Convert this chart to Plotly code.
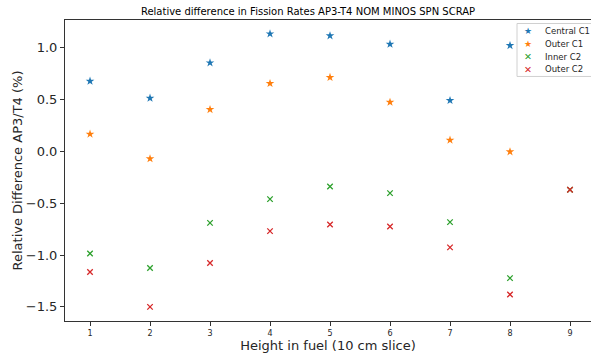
import plotly.graph_objects as go

slices = [1, 2, 3, 4, 5, 6, 7, 8, 9]
central_c1 = [0.678, 0.514, 0.855, 1.135, 1.116, 1.035, 0.492, 1.022, None]
outer_c1 = [0.167, -0.07, 0.405, 0.656, 0.714, 0.475, 0.109, -0.003, None]
inner_c2 = [-0.985, -1.125, -0.689, -0.46, -0.338, -0.402, -0.682, -1.222, -0.37]
outer_c2 = [-1.164, -1.50, -1.077, -0.769, -0.705, -0.724, -0.926, -1.38, -0.37]
ytick_vals = [-1.5, -1.0, -0.5, 0.0, 0.5, 1.0]

names = ["Central C1", "Outer C1", "Inner C2", "Outer C2"]
colors = ["#1f77b4", "#ff7f0e", "#2ca02c", "#d62728"]
series = [central_c1, outer_c1, inner_c2, outer_c2]
symbols = ["star", "star", "x-thin", "x-thin"]
glyphs = ["★", "★", "✕", "✕"]

W, H = 591, 354
L, R, T, B = 65, 0, 19.5, 33.3
PW, PH = W - L - R, H - T - B


def px2paper(px, py):
    return (px - L) / PW, (H - B - py) / PH


fig = go.Figure()
for name, col, ys, sym in zip(names, colors, series, symbols):
    if sym == "star":
        marker = dict(symbol=sym, size=6.5, color=col, line=dict(width=0))
    else:
        marker = dict(symbol=sym, size=5.5, color=col, line=dict(width=1.3, color=col))
    fig.add_trace(go.Scatter(x=slices, y=ys, mode="markers", name=name, marker=marker,
                             showlegend=False))

# custom compact legend (matplotlib style)
x0, y0 = px2paper(517, 23)
x1, y1 = px2paper(600, 76)
fig.add_shape(type="rect", xref="paper", yref="paper", x0=x0, x1=x1, y0=y1, y1=y0,
              line=dict(color="#d0d0d0", width=1), fillcolor="rgba(255,255,255,0.8)", layer="above")
entry_y = [30.7, 43.5, 56.3, 69]
for name, col, g, ey in zip(names, colors, glyphs, entry_y):
    mx, my = px2paper(528, ey)
    tx, _ = px2paper(543, ey)
    fig.add_annotation(x=mx, y=my, xref="paper", yref="paper", text=g, showarrow=False,
                       xanchor="center", yanchor="middle",
                       font=dict(size=9 if g == "★" else 9.5, color=col, family="DejaVu Sans"))
    fig.add_annotation(x=tx, y=my, xref="paper", yref="paper", text=name, showarrow=False,
                       xanchor="left", yanchor="middle",
                       font=dict(size=8.5, color="#262626", family="DejaVu Sans"))

fig.update_layout(
    width=W, height=H,
    margin=dict(l=L, r=R, t=T, b=B, autoexpand=False),
    paper_bgcolor="white", plot_bgcolor="white",
    font=dict(family="DejaVu Sans", color="#262626"),
    title=dict(text="Relative difference in Fission Rates AP3-T4 NOM MINOS SPN SCRAP",
               x=308 / W, xanchor="center", y=1 - 11 / H, yanchor="middle",
               font=dict(size=10, color="black"), automargin=False),
    showlegend=False,
)
fig.update_xaxes(range=[0.583, 9.35], tickvals=slices, ticks="outside", ticklen=4,
                 tickcolor="#333", showline=True, linecolor="#333", linewidth=1, mirror=True,
                 showgrid=False, zeroline=False, tickfont=dict(size=8), automargin=False,
                 title=dict(text="Height in fuel (10 cm slice)", font=dict(size=13), standoff=1))
fig.update_yaxes(range=[-1.636, 1.268], tickvals=ytick_vals,
                 tickformat=".1f", ticks="outside", ticklen=4, tickcolor="#333",
                 showline=True, linecolor="#333", linewidth=1, mirror=True, automargin=False,
                 showgrid=False, zeroline=False, tickfont=dict(size=13),
                 title=dict(text="Relative Difference AP3/T4 (%)", font=dict(size=13), standoff=0))

fig.write_html("out.html", config={"displayModeBar": False},
               post_script="document.body.style.margin='0';")
